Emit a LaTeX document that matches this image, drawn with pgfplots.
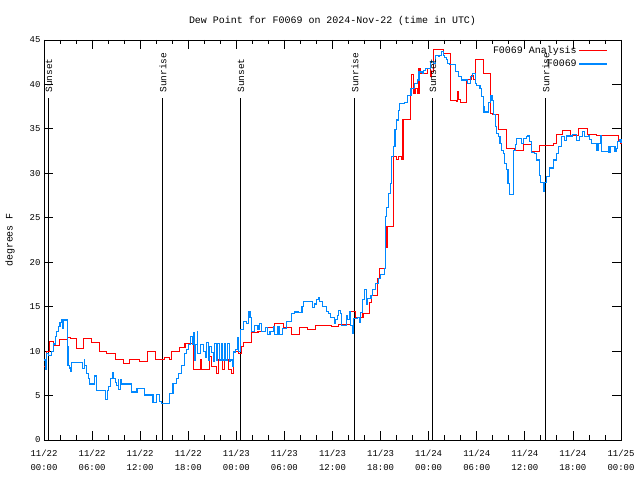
\documentclass[border=0pt]{standalone}
\usepackage{fontspec}
\setmainfont{Liberation Mono}
\usepackage{pgfplots}
\usepackage{pgfplotstable}
\pgfplotsset{compat=1.18}
\definecolor{obsblue}{RGB}{0,136,255}
\definecolor{anared}{RGB}{255,0,0}
\pgfplotstableread{
h v
0 8.269
0.3 9.956
0.7 11.081
1.2 10.631
1.9 11.306
2.9 11.531
3.3 11.419
4.0 10.294
4.9 11.419
5.9 10.969
6.9 9.956
7.8 9.731
8.9 9.056
9.9 8.606
10.7 9.056
11.9 8.831
12.9 9.956
13.9 9.056
15.0 9.281
15.7 9.056
15.9 9.956
16.9 10.406
17.6 10.856
18.7 7.931
19.5 9.056
19.7 7.931
20.6 9.394
20.9 8.269
21.5 7.481
21.8 9.056
22.3 7.931
22.5 9.056
23.0 7.931
23.4 7.481
23.6 9.956
24.3 9.731
24.7 10.519
24.9 10.969
25.9 12.094
26.7 12.206
27.6 12.656
28.8 13.106
29.9 12.656
30.9 11.869
31.9 12.656
32.9 12.431
33.9 12.881
35.9 12.769
36.7 12.994
38.2 14.456
38.9 13.781
39.8 14.231
40.6 15.469
40.9 16.256
41.6 18.169
41.9 19.294
42.6 21.656
42.8 24.019
43.6 31.894
44.0 31.556
44.2 31.894
44.6 31.556
44.8 36.056
45.7 38.981
45.9 41.119
46.1 38.981
46.3 39.544
46.6 38.981
46.8 41.794
47.0 41.231
47.6 41.231
47.8 41.794
48.2 40.894
48.4 41.456
48.6 43.931
49.3 43.931
49.8 43.481
50.7 38.194
51.5 38.081
51.6 39.206
51.7 38.306
52.0 37.969
52.7 40.556
53.4 41.006
53.6 40.556
53.9 42.806
54.8 41.231
55.7 36.731
56.0 36.619
56.7 34.931
57.7 32.794
58.7 32.569
59.8 33.244
60.8 32.456
61.8 33.131
63.6 33.356
63.9 34.369
64.7 34.819
65.7 34.256
66.7 35.044
67.8 34.369
68.9 34.256
71.7 33.694
72.0 33.244
}\anatable
\pgfplotstableread{
h v
0.0 9.0
0.2 7.9
0.3 9.75
0.6 9.5
0.9 10.0
1.2 10.8
1.4 11.6
1.6 12.2
1.8 12.8
2.0 13.2
2.2 13.5
2.3 12.5
2.4 13.5
2.8 13.5
2.9 10.5
3.0 8.4
3.2 8.1
3.3 7.7
3.45 8.7
4.7 8.7
4.75 8.0
4.9 8.0
5.0 9.0
5.1 8.4
5.3 7.5
5.5 6.9
5.7 6.3
6.2 6.3
6.3 7.2
6.5 6.3
6.6 5.6
7.6 5.6
7.7 4.6
7.9 5.6
8.1 6.0
8.3 6.9
8.5 7.6
8.7 6.9
8.9 6.5
9.1 6.1
9.3 6.8
9.35 5.7
9.5 6.8
9.7 6.3
10.9 5.4
11.6 5.8
12.5 5.06
13.6 4.2
14.0 5.1
14.4 4.3
14.7 4.1
15.5 4.1
15.7 5.25
16.1 6.4
16.5 6.9
16.8 7.5
17.2 8.4
17.5 9.75
17.8 10.2
18.0 10.7
18.3 11.6
18.5 10.7
18.6 12.1
18.8 9.0
18.9 10.7
19.1 12.2
19.2 9.75
19.5 10.7
19.9 10.0
20.1 9.3
20.3 11.0
20.5 9.0
20.7 10.5
20.9 9.8
21.1 8.8
21.3 10.9
21.5 8.9
21.7 10.9
21.9 9.0
22.1 10.9
22.3 9.0
22.5 10.9
22.7 9.0
22.9 10.9
23.1 8.8
23.3 9.0
23.5 8.3
23.7 9.9
23.9 10.2
24.1 11.5
24.3 10.0
24.5 12.4
24.9 13.3
25.3 13.1
25.5 14.4
25.7 13.8
25.9 12.2
26.3 12.9
26.7 12.4
26.9 13.1
27.1 12.2
27.6 12.7
27.9 11.9
28.2 12.2
28.6 12.8
28.8 11.9
29.2 12.8
29.4 11.9
29.8 12.5
30.3 13.3
30.7 13.3
30.9 14.25
31.3 14.4
31.8 14.3
32.2 15.0
32.4 15.6
33.2 15.6
33.5 14.9
33.8 15.3
34.0 15.8
34.2 16.05
34.4 15.6
34.8 15.0
35.2 14.5
35.5 14.2
35.8 13.8
36.2 13.1
36.4 13.6
36.6 14.0
36.8 14.6
37.0 14.2
37.1 12.9
37.7 12.9
37.8 14.0
37.9 13.6
38.1 14.4
38.3 12.9
38.5 12.0
38.6 13.7
39.1 13.8
39.4 13.2
39.5 14.3
39.7 15.8
40.0 16.9
40.2 15.2
40.4 15.9
40.8 16.3
41.0 16.9
41.4 17.6
41.7 18.2
42.0 18.6
42.5 19.3
42.6 25.1
42.7 26.2
42.97 27.75
43.2 28.9
43.4 31.9
43.6 33.0
43.8 34.9
44.0 36.0
44.2 37.1
44.4 37.9
45.0 38.0
45.4 38.8
45.8 39.5
46.2 40.1
46.6 40.5
46.8 41.4
47.2 41.25
47.4 41.6
47.6 41.8
48.0 41.8
48.2 42.6
48.6 42.4
48.8 43.3
49.2 43.1
49.4 43.3
49.6 43.7
49.8 43.3
50.0 43.0
50.2 42.8
50.4 42.4
50.6 42.2
51.2 42.2
51.3 41.5
51.7 40.9
52.1 40.5
52.7 40.5
52.8 40.1
53.2 40.9
53.5 41.2
53.8 40.1
54.0 39.9
54.4 39.5
54.6 38.6
54.8 37.5
54.9 36.9
55.3 36.9
55.5 38.0
55.7 38.8
55.9 38.2
56.1 36.6
56.3 35.25
56.5 34.5
56.7 34.1
56.9 33.4
57.1 32.6
57.3 32.2
57.5 31.1
57.7 30.4
57.9 28.9
58.1 27.6
58.4 27.6
58.6 32.6
58.8 33.2
59.0 33.9
59.4 33.9
59.6 33.4
59.8 33.9
60.2 34.1
60.4 34.3
60.6 33.6
60.8 32.3
61.2 32.2
61.4 31.5
61.8 29.8
62.0 29.0
62.3 28.0
62.5 29.0
62.7 29.6
63.1 30.6
63.6 31.5
64.0 32.2
64.2 33.0
64.6 34.1
65.0 33.7
65.2 34.2
65.6 34.2
66.0 34.4
66.4 33.7
66.8 34.1
67.2 34.7
67.5 34.1
67.9 34.2
68.1 33.8
68.3 33.4
68.7 33.4
69.0 32.55
69.2 33.4
69.4 34.2
69.6 32.5
70.0 32.5
70.4 33.0
70.5 32.4
70.7 33.0
71.25 32.5
71.4 32.8
71.6 33.6
71.8 33.8
72.0 33.4
}\obstable
\begin{document}
\begin{tikzpicture}
\useasboundingbox (-44bp,-40bp) rectangle (596bp,440bp);
\fill[white] (-44bp,-40bp) rectangle (596bp,440bp);
\begin{axis}[
  at={(0,0)}, anchor=south west,
  scale only axis, width=577bp, height=400bp,
  xmin=0, xmax=72, ymin=0, ymax=45,
  xtick={0,6,...,72}, minor x tick num=2,
  ytick={0,5,...,45},
  xticklabels={{11/22\\00:00},{11/22\\06:00},{11/22\\12:00},{11/22\\18:00},{11/23\\00:00},{11/23\\06:00},{11/23\\12:00},{11/23\\18:00},{11/24\\00:00},{11/24\\06:00},{11/24\\12:00},{11/24\\18:00},{11/25\\00:00}},
  xticklabel style={align=center, font=\fontsize{9}{15}\selectfont, yshift=-6bp},
  yticklabel style={font=\fontsize{9}{11}\selectfont},
  /pgf/number format/assume math mode=true,
  major tick length=9bp, minor tick length=4.5bp,
  tick style={black, line width=0.8bp},
  axis line style={line width=0.8bp},
  tick pos=both, xticklabel pos=lower, yticklabel pos=left,
  clip=false,
  title={Dew Point for F0069 on 2024-Nov-22 (time in UTC)},
  title style={font=\fontsize{10}{12}\selectfont, at={(axis description cs:0.5,1)}, anchor=base, yshift=10.5bp},
  ylabel={degrees F},
  ylabel style={font=\fontsize{10}{12}\selectfont, at={(axis description cs:0,0.5)}, anchor=center, xshift=0bp, yshift=34bp},
  legend style={at={(axis description cs:1,1)}, anchor=north east, xshift=-10bp, yshift=-2bp, draw=none, fill=none, font=\fontsize{10}{12}\selectfont, row sep=1bp},
  legend cell align=right, legend plot pos=right,
  legend image code/.code={\draw[#1] (0bp,0bp) -- (28bp,0bp);},
]
\addplot[black, line width=0.8bp, forget plot] coordinates {(0.5,0) (0.5,38.5)};
\addplot[black, line width=0.8bp, forget plot] coordinates {(14.72,0) (14.72,38.5)};
\addplot[black, line width=0.8bp, forget plot] coordinates {(24.46,0) (24.46,38.5)};
\addplot[black, line width=0.8bp, forget plot] coordinates {(38.68,0) (38.68,38.5)};
\addplot[black, line width=0.8bp, forget plot] coordinates {(48.42,0) (48.42,38.5)};
\addplot[black, line width=0.8bp, forget plot] coordinates {(62.52,0) (62.52,38.5)};
\addplot[const plot, draw=anared, line width=1.1bp] table[x=h,y=v] {\anatable};
\addlegendentry{F0069 Analysis}
\addplot[const plot, draw=obsblue, line width=1.1bp] table[x=h,y=v] {\obstable};
\addlegendentry{F0069}
\node[rotate=90, anchor=west, font=\fontsize{9.5}{11}\selectfont, yshift=-1bp] at (axis cs:0.5,38.7) {Sunset};
\node[rotate=90, anchor=west, font=\fontsize{9.5}{11}\selectfont, yshift=-1bp] at (axis cs:14.72,38.7) {Sunrise};
\node[rotate=90, anchor=west, font=\fontsize{9.5}{11}\selectfont, yshift=-1bp] at (axis cs:24.46,38.7) {Sunset};
\node[rotate=90, anchor=west, font=\fontsize{9.5}{11}\selectfont, yshift=-1bp] at (axis cs:38.68,38.7) {Sunrise};
\node[rotate=90, anchor=west, font=\fontsize{9.5}{11}\selectfont, yshift=-1bp] at (axis cs:48.42,38.7) {Sunset};
\node[rotate=90, anchor=west, font=\fontsize{9.5}{11}\selectfont, yshift=-1bp] at (axis cs:62.52,38.7) {Sunrise};
\end{axis}
\end{tikzpicture}
\end{document}
